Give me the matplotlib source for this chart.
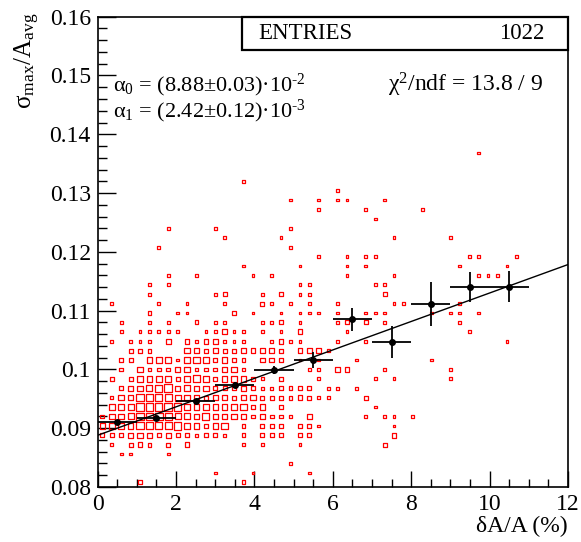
import numpy as np
import matplotlib
matplotlib.use('Agg')
import matplotlib.pyplot as plt
from matplotlib.patches import Rectangle
from matplotlib.collections import PatchCollection
from matplotlib.ticker import MultipleLocator

plt.rcParams['font.family'] = ['Liberation Serif', 'DejaVu Serif']
plt.rcParams['mathtext.default'] = 'regular'

# 2D histogram binning
nx, x_lo, x_hi = 50, 0.0, 12.0
ny, y_lo, y_hi = 50, 0.08, 0.16

# filled cells: (x bin, y bin, entries), one line per y bin
cells = [
    (4, 0, 2), (15, 0, 2),
    (12, 1, 1), (16, 1, 1), (22, 1, 1),
    (20, 2, 1),
    (2, 3, 1), (3, 3, 1), (7, 3, 1),
    (1, 4, 1), (3, 4, 2), (4, 4, 3), (5, 4, 2), (7, 4, 2), (9, 4, 3), (15, 4, 1), (17, 4, 1), (21, 4, 1), (30, 4, 2),
    (0, 5, 2), (1, 5, 2), (2, 5, 2), (3, 5, 4), (4, 5, 4), (5, 5, 4), (6, 5, 2), (7, 5, 4), (8, 5, 2), (9, 5, 2),
    (10, 5, 1), (11, 5, 2), (12, 5, 2), (13, 5, 1), (15, 5, 2), (17, 5, 2), (18, 5, 2), (19, 5, 2), (21, 5, 2),
    (22, 5, 2), (31, 5, 3),
    (0, 6, 4), (1, 6, 4), (2, 6, 4), (3, 6, 4), (4, 6, 7), (5, 6, 7), (6, 6, 7), (7, 6, 7), (8, 6, 8), (9, 6, 4),
    (10, 6, 4), (11, 6, 2), (12, 6, 4), (13, 6, 6), (15, 6, 2), (17, 6, 2), (18, 6, 2), (19, 6, 2), (21, 6, 2),
    (22, 6, 2), (23, 6, 1), (31, 6, 1),
    (0, 7, 2), (1, 7, 4), (2, 7, 4), (3, 7, 5), (4, 7, 8), (5, 7, 8), (6, 7, 8), (7, 7, 7), (8, 7, 5), (9, 7, 5),
    (10, 7, 4), (11, 7, 7), (12, 7, 4), (13, 7, 4), (14, 7, 4), (15, 7, 4), (16, 7, 2), (17, 7, 4), (18, 7, 2),
    (19, 7, 2), (20, 7, 2), (22, 7, 3), (28, 7, 1), (30, 7, 1), (31, 7, 1), (33, 7, 1),
    (1, 8, 4), (2, 8, 4), (3, 8, 5), (4, 8, 8), (5, 8, 8), (6, 8, 7), (7, 8, 9), (8, 8, 7), (9, 8, 5), (10, 8, 4),
    (11, 8, 4), (12, 8, 4), (13, 8, 4), (14, 8, 4), (15, 8, 6), (16, 8, 2), (17, 8, 4), (19, 8, 2), (29, 8, 1),
    (1, 9, 1), (2, 9, 4), (3, 9, 4), (4, 9, 7), (5, 9, 8), (6, 9, 7), (7, 9, 7), (8, 9, 5), (9, 9, 4), (10, 9, 4),
    (11, 9, 2), (12, 9, 4), (13, 9, 4), (14, 9, 2), (15, 9, 4), (16, 9, 4), (17, 9, 2), (18, 9, 2), (19, 9, 2),
    (20, 9, 2), (21, 9, 3), (22, 9, 2), (23, 9, 1), (24, 9, 1), (28, 9, 2),
    (2, 10, 2), (3, 10, 4), (4, 10, 4), (5, 10, 5), (6, 10, 7), (7, 10, 8), (8, 10, 4), (9, 10, 5), (10, 10, 4),
    (11, 10, 4), (12, 10, 2), (13, 10, 2), (14, 10, 2), (15, 10, 4), (16, 10, 2), (17, 10, 1), (18, 10, 1),
    (19, 10, 2), (20, 10, 2), (21, 10, 2), (22, 10, 2), (24, 10, 1), (25, 10, 1), (27, 10, 1),
    (1, 11, 2), (3, 11, 2), (4, 11, 4), (5, 11, 4), (6, 11, 4), (7, 11, 5), (8, 11, 2), (9, 11, 4), (10, 11, 7),
    (11, 11, 4), (12, 11, 2), (13, 11, 4), (14, 11, 4), (15, 11, 4), (16, 11, 2), (17, 11, 1), (19, 11, 2),
    (23, 11, 1), (29, 11, 1), (31, 11, 1), (37, 11, 1),
    (2, 12, 2), (4, 12, 4), (5, 12, 2), (6, 12, 2), (7, 12, 2), (8, 12, 4), (9, 12, 4), (10, 12, 2), (11, 12, 2),
    (12, 12, 2), (13, 12, 4), (14, 12, 4), (15, 12, 2), (22, 12, 1), (23, 12, 1), (25, 12, 3), (26, 12, 3),
    (30, 12, 1), (37, 12, 1),
    (2, 13, 2), (3, 13, 2), (5, 13, 4), (6, 13, 4), (7, 13, 5), (8, 13, 1), (9, 13, 4), (10, 13, 6), (11, 13, 6),
    (12, 13, 2), (13, 13, 4), (14, 13, 2), (15, 13, 2), (17, 13, 3), (18, 13, 3), (19, 13, 2), (21, 13, 1),
    (23, 13, 1), (27, 13, 1), (35, 13, 1),
    (3, 14, 2), (4, 14, 2), (5, 14, 2), (9, 14, 4), (10, 14, 4), (11, 14, 2), (12, 14, 3), (13, 14, 2), (14, 14, 2),
    (15, 14, 3), (16, 14, 3), (17, 14, 3), (18, 14, 3), (19, 14, 2), (21, 14, 3), (22, 14, 3), (23, 14, 3), (24, 14, 1),
    (1, 15, 1), (3, 15, 1), (4, 15, 1), (5, 15, 1), (7, 15, 3), (9, 15, 3), (10, 15, 1), (11, 15, 3), (12, 15, 3),
    (13, 15, 1), (14, 15, 1), (15, 15, 1), (18, 15, 1), (19, 15, 3), (20, 15, 1), (21, 15, 1), (25, 15, 1),
    (28, 15, 1), (43, 15, 1),
    (2, 16, 1), (4, 16, 1), (5, 16, 1), (6, 16, 1), (7, 16, 1), (8, 16, 1), (11, 16, 1), (12, 16, 1), (13, 16, 3),
    (14, 16, 1), (15, 16, 1), (17, 16, 1), (19, 16, 1), (21, 16, 3), (26, 16, 1), (39, 16, 1),
    (2, 17, 1), (5, 17, 1), (7, 17, 1), (10, 17, 2), (12, 17, 1), (13, 17, 1), (17, 17, 1), (18, 17, 1), (19, 17, 2),
    (21, 17, 1), (25, 17, 1), (26, 17, 2), (28, 17, 2), (30, 17, 1), (38, 17, 1),
    (5, 18, 2), (8, 18, 1), (9, 18, 1), (14, 18, 2), (16, 18, 1), (19, 18, 1), (21, 18, 1), (22, 18, 1), (23, 18, 1),
    (25, 18, 1), (28, 18, 1), (29, 18, 1), (30, 18, 1), (35, 18, 1), (37, 18, 1), (38, 18, 1), (40, 18, 1),
    (1, 19, 1), (6, 19, 1), (9, 19, 1), (13, 19, 1), (17, 19, 2), (18, 19, 1), (20, 19, 1), (22, 19, 1), (25, 19, 1),
    (31, 19, 1), (32, 19, 1), (38, 19, 1),
    (5, 20, 1), (12, 20, 1), (13, 20, 2), (17, 20, 1), (19, 20, 2), (21, 20, 1), (22, 20, 1), (30, 20, 2),
    (5, 21, 1), (7, 21, 1), (21, 21, 1), (22, 21, 1), (29, 21, 1), (30, 21, 1),
    (7, 22, 1), (10, 22, 1), (16, 22, 1), (18, 22, 1), (26, 22, 1), (31, 22, 1), (40, 22, 1), (41, 22, 1), (42, 22, 1),
    (15, 23, 1), (21, 23, 1), (26, 23, 1), (28, 23, 1), (38, 23, 1), (43, 23, 1),
    (23, 24, 1), (26, 24, 1), (28, 24, 1), (29, 24, 1), (39, 24, 1), (40, 24, 1), (44, 24, 1),
    (6, 25, 1), (20, 25, 1),
    (13, 26, 1), (19, 26, 1), (31, 26, 1), (37, 26, 1),
    (7, 27, 1), (12, 27, 1), (20, 27, 1),
    (29, 28, 1),
    (23, 29, 1), (28, 29, 1), (34, 29, 1),
    (20, 30, 1), (23, 30, 1), (25, 30, 1), (26, 30, 1), (30, 30, 1),
    (25, 31, 1),
    (15, 32, 1),
    (40, 35, 1),
]

# profile points (mean per 1% slice)
prof_x = [0.5, 1.5, 2.5, 3.5, 4.5, 5.5, 6.5, 7.5, 8.5, 9.5, 10.5]
prof_ex = [0.5] * 11
prof_y = [0.0910, 0.0918, 0.0946, 0.0973, 0.0999, 0.1016, 0.1085, 0.1047, 0.1111, 0.1140, 0.1141]
prof_ey = [0.0003, 0.0003, 0.0004, 0.0005, 0.0006, 0.0014, 0.0020, 0.0027, 0.0037, 0.0026, 0.0027]

# linear fit
a0, a1 = 0.0888, 0.00242
entries = 1022

fig = plt.figure(figsize=(5.81, 5.42), dpi=100)
ax = fig.add_axes([97.7 / 581, 1 - 487 / 542, 470.3 / 581, 470.3 / 542])

x_edges = np.linspace(x_lo, x_hi, nx + 1)
y_edges = np.linspace(y_lo, y_hi, ny + 1)
bw = x_edges[1] - x_edges[0]
bh = y_edges[1] - y_edges[0]
nmax = 12.0

boxes = []
for ix, iy, n in cells:
    xc = 0.5 * (x_edges[ix] + x_edges[ix + 1])
    yc = 0.5 * (y_edges[iy] + y_edges[iy + 1])
    f = np.sqrt(n / nmax)
    boxes.append(Rectangle((xc - 0.5 * f * bw, yc - 0.5 * f * bh), f * bw, f * bh))
ax.add_collection(PatchCollection(boxes, facecolor='none', edgecolor='red', linewidth=0.9, zorder=2))

xx = np.array([x_lo, x_hi])
ax.plot(xx, a0 + a1 * xx, color='black', linewidth=1.0, zorder=3)
ax.errorbar(prof_x, prof_y, xerr=prof_ex, yerr=prof_ey, fmt='o', color='black',
            markersize=4, elinewidth=1.3, capsize=0, zorder=4)

ax.set_xlim(x_lo, x_hi)
ax.set_ylim(y_lo, y_hi)
ax.xaxis.set_major_locator(MultipleLocator(2))
ax.xaxis.set_minor_locator(MultipleLocator(0.5))
ax.yaxis.set_major_locator(MultipleLocator(0.01))
ax.yaxis.set_minor_locator(MultipleLocator(0.002))
ax.xaxis.set_major_formatter(plt.FuncFormatter(lambda v, p: '%d' % round(v)))
ax.yaxis.set_major_formatter(plt.FuncFormatter(lambda v, p: '0.1' if abs(v - 0.1) < 1e-9 else '%.2f' % v))
ax.tick_params(axis='both', which='both', direction='in', top=False, right=False, labelsize=17, pad=5)
ax.tick_params(axis='x', which='major', length=11.5, width=1.0)
ax.tick_params(axis='x', which='minor', length=5.5, width=1.0)
ax.tick_params(axis='y', which='major', length=13, width=1.0)
ax.tick_params(axis='y', which='minor', length=6.5, width=1.0)
for s in ax.spines.values():
    s.set_linewidth(1.2)

# entries box
ax.add_patch(Rectangle((0.3075, 0.929), 0.6925, 0.071, transform=ax.transAxes,
                       facecolor='white', edgecolor='black', linewidth=1.6, zorder=5, clip_on=False))
ax.text(0.3408, 0.9645, 'ENTRIES', transform=ax.transAxes, ha='left', va='center', fontsize=16.5, zorder=6)
ax.text(0.9509, 0.9645, str(entries), transform=ax.transAxes, ha='right', va='center', fontsize=16.5, zorder=6)

ax.text(0.0325, 0.855, 'α$_{0}$ = (8.88±0.03)·10$^{\u2010 2}$', transform=ax.transAxes,
        ha='left', va='center', fontsize=16)
ax.text(0.0325, 0.799, 'α$_{1}$ = (2.42±0.12)·10$^{\u2010 3}$', transform=ax.transAxes,
        ha='left', va='center', fontsize=16)
ax.text(0.617, 0.855, 'χ$^{2}$/ndf = 13.8 / 9', transform=ax.transAxes,
        ha='left', va='center', fontsize=17)

fig.text(0.048, 0.977, 'σ$_{max}$/A$_{avg}$', rotation=90, ha='center', va='top', fontsize=18)
fig.text(0.9776, 0.028, 'δA/A (%)', ha='right', va='center', fontsize=17)

fig.savefig('out.png', dpi=100)
